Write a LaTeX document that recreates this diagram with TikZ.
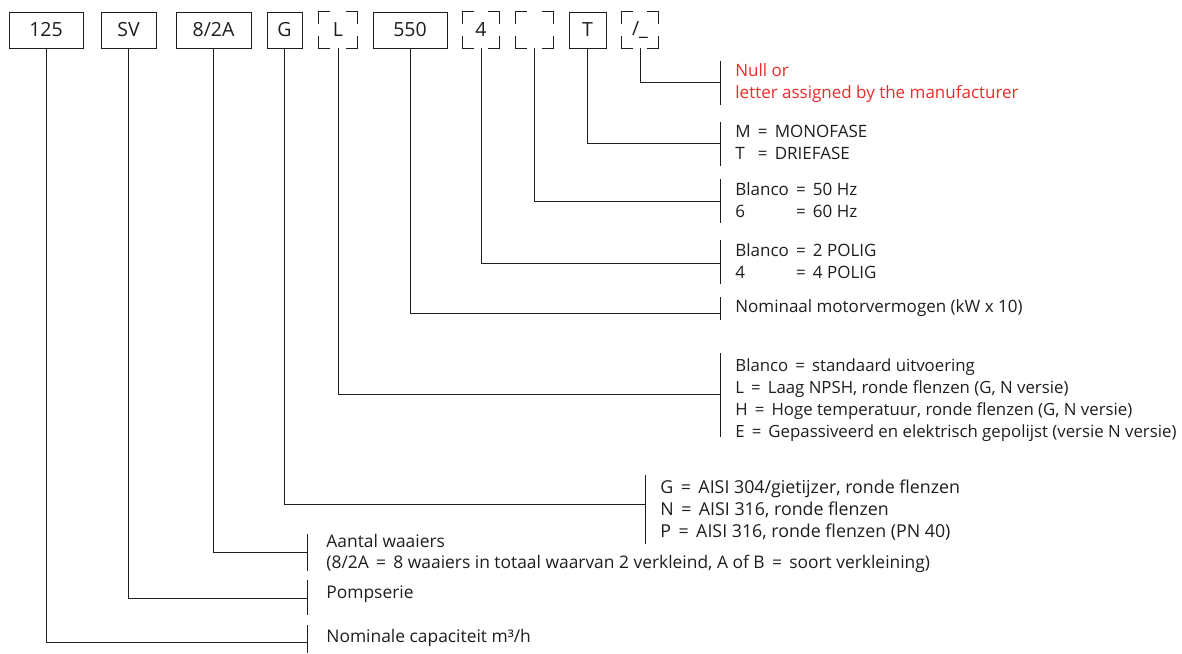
\documentclass[tikz,border=0pt]{standalone}
\usepackage{fontspec}
\setmainfont{Open Sans}
\usetikzlibrary{calc}
\definecolor{ink}{HTML}{1E1E1E}
\definecolor{redtxt}{HTML}{EE2A2A}
\newcommand{\myeq}{\hspace{0.42em}=\hspace{0.42em}}
\begin{document}
\begin{tikzpicture}[x=1pt,y=-1pt,line width=0.8pt,
  codebox/.style={draw=ink,minimum height=36pt,inner sep=0pt,font=\fontsize{19.5}{22}\selectfont,text=ink},
  dashbox/.style={minimum height=36pt,inner sep=0pt,font=\fontsize{19.5}{22}\selectfont,text=ink},
  desc/.style={anchor=west,align=left,inner sep=0pt,font=\fontsize{17}{22}\selectfont,text=ink},
  link/.style={draw=ink,line width=0.8pt}]
\useasboundingbox (0,0) rectangle (1182,653);

% top code boxes
\node[codebox,minimum width=74pt] (b125) at (46,30) {125};
\node[codebox,minimum width=55pt] (bsv) at (128.5,30) {SV};
\node[codebox,minimum width=75pt] (bimp) at (213.5,30) {8/2A};
\node[codebox,minimum width=35pt] (bg) at (284.5,30) {G};
\node[dashbox,minimum width=38pt] (bl) at (338,30) {L};
\node[codebox,minimum width=74pt] (bkw) at (410,30) {550};
\node[dashbox,minimum width=36pt] (bpol) at (481,30) {4};
\node[dashbox,minimum width=37pt] (bhz) at (534.5,30) {\phantom{4}};
\node[codebox,minimum width=37pt] (bt) at (587.5,30) {T};
\node[dashbox,minimum width=36pt] (bman) at (640,30) {/\_};

% dashed corner marks
\foreach \n in {bl,bpol,bhz,bman}{
  \draw[link] ($(\n.north west)+(0,12)$) -- (\n.north west) -- ++(11,0);
  \draw[link] ($(\n.north east)+(0,12)$) -- (\n.north east) -- ++(-11,0);
  \draw[link] ($(\n.south west)+(0,-12)$) -- (\n.south west) -- ++(11,0);
  \draw[link] ($(\n.south east)+(0,-12)$) -- (\n.south east) -- ++(-11,0);
}

% junction coordinates on the bars
\coordinate (jman) at (720,82);
\coordinate (jt) at (720,143);
\coordinate (jhz) at (720,201);
\coordinate (jpol) at (720,263);
\coordinate (jkw) at (720,313);
\coordinate (jl) at (720,394);
\coordinate (jg) at (645,504);
\coordinate (jimp) at (307,552);
\coordinate (jsv) at (307,598);
\coordinate (j125) at (307,642);

% bars
\draw[link] (720,61) -- (720,105);
\draw[link] (720,122) -- (720,166);
\draw[link] (720,179) -- (720,223);
\draw[link] (720,240) -- (720,284);
\draw[link] (720,297) -- (720,320);
\draw[link] (720,353) -- (720,437);
\draw[link] (645,475) -- (645,544);
\draw[link] (307,534) -- (307,571);
\draw[link] (307,580) -- (307,615);
\draw[link] (307,625) -- (307,653);

% connectors
\draw[link] (bman.south) |- (jman);
\draw[link] (bt.south) |- (jt);
\draw[link] (bhz.south) |- (jhz);
\draw[link] (bpol.south) |- (jpol);
\draw[link] (bkw.south) |- (jkw);
\draw[link] (bl.south) |- (jl);
\draw[link] (bg.south) |- (jg);
\draw[link] (bimp.south) |- (jimp);
\draw[link] (bsv.south) |- (jsv);
\draw[link] (b125.south) |- (j125);

% descriptions
\node[desc,text=redtxt] (dman) at (735,83) {Null or\\letter assigned by the manufacturer};
\node[desc] (dt) at (735,142) {M\myeq MONOFASE\\\rlap{T}\phantom{M}\myeq DRIEFASE};
\node[desc] (dhz) at (735,200) {Blanco\myeq 50 Hz\\\rlap{6}\phantom{Blanco}\myeq 60 Hz};
\node[desc] (dpol) at (735,261) {Blanco\myeq 2 POLIG\\\rlap{4}\phantom{Blanco}\myeq 4 POLIG};
\node[desc] (dkw) at (735,308) {Nominaal motorvermogen (kW x 10)};
\node[desc,font=\fontsize{16.8}{22}\selectfont] (dl) at (735,400) {Blanco\myeq standaard uitvoering\\L\myeq Laag NPSH, ronde flenzen (G, N versie)\\H\myeq Hoge temperatuur, ronde flenzen (G, N versie)\\E\myeq Gepassiveerd en elektrisch gepolijst (versie N versie)};
\node[desc,font=\fontsize{17.8}{22}\selectfont] (dg) at (660,510) {G\myeq AISI 304/gietijzer, ronde flenzen\\N\myeq AISI 316, ronde flenzen\\P\myeq AISI 316, ronde flenzen (PN 40)};
\node[desc,font=\fontsize{17.4}{21}\selectfont] (dimp) at (326,553) {Aantal waaiers\\(8/2A\myeq 8 waaiers in totaal waarvan 2 verkleind, A of B\myeq soort verkleining)};
\node[desc,font=\fontsize{17.4}{22}\selectfont] (dsv) at (326,594) {Pompserie};
\node[desc,font=\fontsize{17.4}{22}\selectfont] (d125) at (326,638) {Nominale capaciteit m³/h};
\end{tikzpicture}
\end{document}
